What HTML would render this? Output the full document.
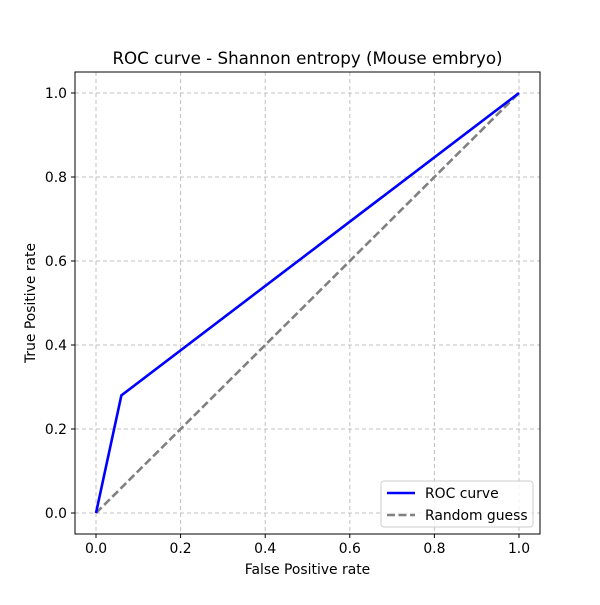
<!DOCTYPE html>
<html><head><meta charset="utf-8"><style>body{margin:0;background:#fff}svg{font-family:"DejaVu Sans","Liberation Sans",sans-serif}</style></head>
<body>
<svg id="chart" width="600" height="600" xmlns="http://www.w3.org/2000/svg">
<rect width="600" height="600" fill="#fff"/>
<g id="grid"></g>
<g id="marks"></g>
<rect x="75" y="72" width="465" height="462" fill="none" stroke="#000" stroke-width="1"/>
<g id="ticks"></g>
<text x="307.5" y="64" font-size="16.7" text-anchor="middle">ROC curve - Shannon entropy (Mouse embryo)</text>
<text x="307.5" y="574" font-size="13.9" text-anchor="middle">False Positive rate</text>
<text x="35" y="303" font-size="13.9" text-anchor="middle" transform="rotate(-90 35 303)">True Positive rate</text>
<g>
<rect x="381" y="481" width="152" height="46" rx="3" fill="#fff" fill-opacity="0.8" stroke="#ccc"/>
<line x1="387" y1="493" x2="415" y2="493" stroke="#0000ff" stroke-width="2.6"/>
<text x="425" y="498" font-size="13.9">ROC curve</text>
<line x1="387" y1="515" x2="415" y2="515" stroke="#808080" stroke-width="2.6" stroke-dasharray="8,3.5"/>
<text x="425" y="520" font-size="13.9">Random guess</text>
</g>
</svg>
<script>
const rocFpr=[0,0.06,1];
const rocTpr=[0,0.28,1];
const randFpr=[0,1];
const randTpr=[0,1];
const xTicks=[0,0.2,0.4,0.6,0.8,1.0];
const yTicks=[0,0.2,0.4,0.6,0.8,1.0];
const xTickLabels=["0.0","0.2","0.4","0.6","0.8","1.0"];
const yTickLabels=["0.0","0.2","0.4","0.6","0.8","1.0"];
const NS="http://www.w3.org/2000/svg";
const X=v=>96+v*423, Y=v=>513-v*420;
function mk(t,a,p){const e=document.createElementNS(NS,t);for(const k in a)e.setAttribute(k,a[k]);p.appendChild(e);return e;}
const grid=document.getElementById('grid'),ticks=document.getElementById('ticks'),marks=document.getElementById('marks');
xTicks.forEach((v,i)=>{
 const g=mk('line',{x1:X(v),x2:X(v),y1:72,y2:534,stroke:'#b0b0b0','stroke-dasharray':'4,3','stroke-opacity':0.8},grid);
 
 const t=mk('line',{x1:X(v),x2:X(v),y1:534,y2:538,stroke:'#000'},ticks);
 
 const l=mk('text',{x:X(v),y:553,'font-size':13.9,'text-anchor':'middle'},ticks);l.textContent=xTickLabels[i];
 
});
yTicks.forEach((v,i)=>{
 const g=mk('line',{x1:75,x2:540,y1:Y(v),y2:Y(v),stroke:'#b0b0b0','stroke-dasharray':'4,3','stroke-opacity':0.8},grid);
 
 const t=mk('line',{x1:71,x2:75,y1:Y(v),y2:Y(v),stroke:'#000'},ticks);
 
 const l=mk('text',{x:67,y:Y(v)+5,'font-size':13.9,'text-anchor':'end'},ticks);l.textContent=yTickLabels[i];
 
});
const rp=mk('polyline',{points:randFpr.map((v,i)=>X(v)+','+Y(randTpr[i])).join(' '),fill:'none',stroke:'#808080','stroke-width':2.6,'stroke-dasharray':'8,3.5'},marks);

const rc=mk('polyline',{points:rocFpr.map((v,i)=>X(v)+','+Y(rocTpr[i])).join(' '),fill:'none',stroke:'#0000ff','stroke-width':2.6},marks);

</script>
</body></html>
